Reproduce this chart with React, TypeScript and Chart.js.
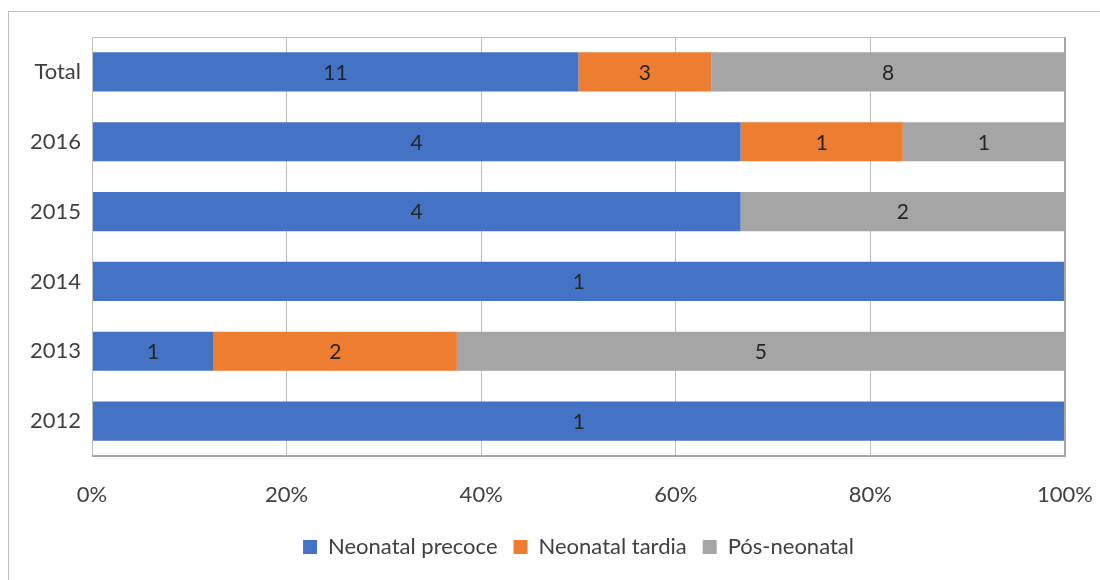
import React, { useEffect, useRef } from "react";
import { Chart, registerables } from "chart.js";

Chart.register(...registerables);

const categories = ["Total", "2016", "2015", "2014", "2013", "2012"];
const precoce = [11, 4, 4, 1, 1, 1];
const tardia = [3, 1, 0, 0, 2, 0];
const posNeonatal = [8, 1, 2, 0, 5, 0];
const seriesNames = ["Neonatal precoce", "Neonatal tardia", "Pós-neonatal"];
const seriesColors = ["#4472C4", "#ED7D31", "#A5A5A5"];
const xTicks = [0, 20, 40, 60, 80, 100];

const FONT = "Lato, 'Open Sans', 'DejaVu Sans', sans-serif";

export default function App() {
  const ref = useRef<HTMLCanvasElement | null>(null);

  useEffect(() => {
    document.body.style.margin = "0";
    const counts = [precoce, tardia, posNeonatal];
    const totals = categories.map((_, i) => counts.reduce((s, arr) => s + arr[i], 0));
    const pct = counts.map((arr) => arr.map((v, i) => (v / totals[i]) * 100));

    const labelPlugin = {
      id: "segLabels",
      afterDatasetsDraw(chart: any) {
        const ctx = chart.ctx;
        ctx.save();
        ctx.font = `21px ${FONT}`;
        ctx.fillStyle = "#262626";
        ctx.textAlign = "center";
        ctx.textBaseline = "middle";
        chart.data.datasets.forEach((ds: any, di: number) => {
          const meta = chart.getDatasetMeta(di);
          meta.data.forEach((bar: any, i: number) => {
            const v = counts[di][i];
            if (!v) return;
            const cx = (bar.x + bar.base) / 2;
            ctx.fillText(String(v), cx, bar.y + 1);
          });
        });
        ctx.restore();
      },
    };

    const framePlugin = {
      id: "frame",
      afterDatasetsDraw(chart: any) {
        const { left, right, top, bottom } = chart.chartArea;
        const ctx = chart.ctx;
        ctx.save();
        ctx.strokeStyle = "#bfbfbf";
        ctx.lineWidth = 1;
        ctx.beginPath();
        ctx.moveTo(left + 0.5, bottom);
        ctx.lineTo(left + 0.5, top + 0.5);
        ctx.lineTo(right, top + 0.5);
        ctx.stroke();
        ctx.strokeStyle = "#a6a6a6";
        ctx.lineWidth = 2;
        ctx.beginPath();
        ctx.moveTo(left, bottom);
        ctx.lineTo(right, bottom);
        ctx.lineTo(right, top);
        ctx.stroke();
        ctx.restore();
      },
    };

    const chart = new Chart(ref.current as HTMLCanvasElement, {
      type: "bar",
      data: {
        labels: categories,
        datasets: seriesNames.map((name, k) => ({
          label: name,
          data: pct[k],
          backgroundColor: seriesColors[k],
          borderWidth: 0,
          barPercentage: 0.56,
          categoryPercentage: 1,
        })),
      },
      options: {
        indexAxis: "y",
        animation: false,
        responsive: false,
        maintainAspectRatio: false,
        layout: { padding: { left: 0, right: 35, top: 37, bottom: 12 } },
        scales: {
          x: {
            stacked: true,
            min: 0,
            max: 100,
            afterBuildTicks(scale: any) {
              scale.ticks = xTicks.map((v) => ({ value: v }));
            },
            afterFit(scale: any) {
              scale.height = 64;
              scale.paddingLeft = 0;
              scale.paddingRight = 0;
            },
            ticks: {
              padding: 26,
              color: "#404040",
              font: { family: FONT, size: 22 },
              callback: (v: any) => v + "%",
              maxRotation: 0,
            },
            grid: { color: "#bfbfbf", drawTicks: false, lineWidth: 1 },
            border: { display: false },
          },
          y: {
            stacked: true,
            afterFit(scale: any) {
              scale.width = 92;
            },
            ticks: {
              padding: 11,
              color: "#404040",
              font: { family: FONT, size: 22 },
            },
            grid: { display: false, drawTicks: false },
            border: { display: false },
          },
        },
        plugins: {
          legend: {
            position: "bottom",
            fullSize: false,
            labels: {
              boxWidth: 14,
              boxHeight: 14,
              padding: 16,
              color: "#404040",
              font: { family: FONT, size: 22 },
            },
          },
          tooltip: { enabled: false },
        },
      },
      plugins: [labelPlugin, framePlugin],
    });
    return () => chart.destroy();
  }, []);

  return (
    <div style={{ position: "relative", width: 1100, height: 580, background: "#fff", overflow: "hidden" }}>
      <div
        style={{
          position: "absolute",
          left: 8,
          top: 11,
          width: 1200,
          height: 700,
          borderLeft: "1px solid #bfbfbf",
          borderTop: "1px solid #bfbfbf",
        }}
      />
      <canvas ref={ref} width={1100} height={580} style={{ position: "absolute", left: 0, top: 0 }} />
    </div>
  );
}
